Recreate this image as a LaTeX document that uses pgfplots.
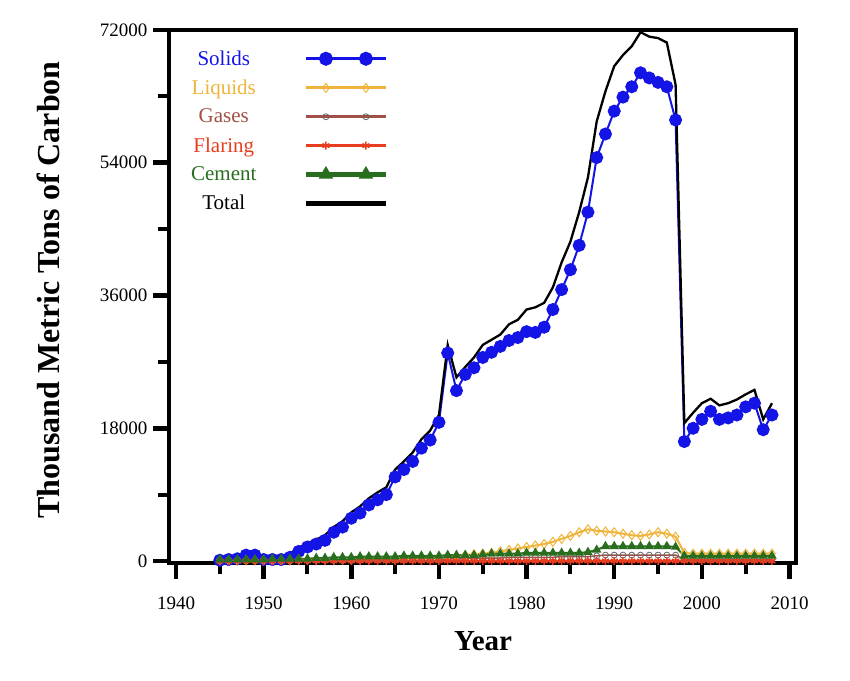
\documentclass[border=0pt]{standalone}
\usepackage{fontspec}
\setmainfont{Liberation Serif}
\usepackage{pgfplots}
\pgfplotsset{compat=1.18}
\usepackage{pgfplotstable}
\definecolor{cSolid}{RGB}{20,20,230}
\definecolor{cLiq}{RGB}{240,180,60}
\definecolor{cGas}{RGB}{160,80,70}
\definecolor{cFlar}{RGB}{232,60,30}
\definecolor{cCem}{RGB}{40,110,30}
\pgfplotsset{
  thicklegend/.style={legend image code/.code={\draw[mark repeat=2,mark phase=2,##1,line width=5pt] plot coordinates {(0pt,0pt) (20pt,0pt) (40pt,0pt) (60pt,0pt) (80pt,0pt)};}},
  totallegend/.style={legend image code/.code={\draw[##1,line width=5pt] (0pt,0pt) -- (80pt,0pt);}},
}

\pgfplotstableread{
year solids liquids gases flaring cement total
1945 100 100 100 0 200 300
1946 200 100 100 0 200 400
1947 300 100 100 0 200 600
1948 800 100 100 0 200 1100
1949 800 100 100 0 200 1100
1950 200 100 100 0 200 600
1951 200 100 100 0 300 600
1952 200 100 100 0 300 700
1953 500 100 100 0 300 1000
1954 1300 200 100 0 300 1800
1955 1900 200 100 0 300 2400
1956 2300 200 100 0 400 2900
1957 2800 200 100 0 400 3500
1958 3900 200 100 0 500 4600
1959 4600 200 100 0 500 5400
1960 5800 200 100 0 500 6600
1961 6500 300 100 0 600 7400
1962 7600 300 100 0 600 8500
1963 8300 300 100 0 600 9300
1964 9000 300 100 0 600 10000
1965 11400 300 100 0 600 12400
1966 12400 400 100 0 700 13500
1967 13500 400 100 0 700 14700
1968 15300 400 100 0 700 16500
1969 16400 500 100 0 700 17700
1970 18800 500 100 0 700 19800
1971 28200 600 300 0 800 29300
1972 23100 700 300 0 800 24900
1973 25300 800 300 0 800 26300
1974 26200 900 400 0 800 27600
1975 27600 1000 400 0 900 29300
1976 28300 1100 400 0 1000 30000
1977 29100 1300 400 0 1000 30700
1978 29900 1500 500 0 1000 32100
1979 30300 1700 500 0 1000 32700
1980 31100 1900 500 0 1100 34100
1981 31000 2100 500 0 1100 34400
1982 31700 2300 500 0 1100 35000
1983 34100 2600 500 0 1100 37100
1984 36800 3000 600 0 1100 40500
1985 39500 3400 600 0 1100 43300
1986 42800 3900 600 0 1100 47300
1987 47300 4300 600 0 1200 52000
1988 54700 4100 700 0 1500 59600
1989 57900 4000 800 0 2000 63700
1990 61000 3900 800 0 2000 67100
1991 62900 3700 800 0 2000 68600
1992 64300 3500 800 0 2000 69800
1993 66200 3400 800 0 2000 71700
1994 65500 3600 800 0 2000 71100
1995 64900 3900 800 0 2000 70900
1996 64300 3700 800 0 2000 70300
1997 59800 3300 800 0 1900 64600
1998 16200 1100 200 0 700 18700
1999 18000 1000 200 0 700 20100
2000 19200 1000 200 0 700 21400
2001 20300 1000 200 0 700 22000
2002 19200 1000 200 0 700 21100
2003 19400 1000 200 0 700 21400
2004 19800 1000 200 0 700 21900
2005 20900 1000 200 0 700 22600
2006 21400 1000 200 0 700 23200
2007 17800 1000 200 0 700 19200
2008 19800 1000 200 0 700 21400
}\data

\begin{document}
\begin{tikzpicture}
\useasboundingbox (-169pt,-117pt) rectangle (681pt,563pt);
\begin{axis}[
  at={(0pt,0pt)}, anchor=south west,
  scale only axis, width=627pt, height=533pt,
  xmin=1939.2, xmax=2010.74, ymin=-271, ymax=72000,
  xtick={1940,1950,...,2010}, minor xtick={1945,1955,...,2005},
  ytick={0,18000,36000,54000,72000}, minor ytick={9000,27000,45000,63000},
  /pgf/number format/1000 sep={},
  /pgf/number format/assume math mode=true,
  scaled y ticks=false,
  tick align=outside, tick pos=left,
  major tick length=16pt, minor tick length=11pt,
  major tick style={line width=4.5pt,black},
  minor tick style={line width=4pt,black},
  axis line style={line width=4.5pt,black},
  tick label style={font=\fontsize{19}{21}\selectfont},
  xticklabel style={yshift=-14pt},
  yticklabel style={xshift=-2pt},
  xlabel={Year},
  ylabel={Thousand Metric Tons of Carbon},
  xlabel style={at={(axis description cs:0.5008,-0.146)}, anchor=center, font=\fontsize{29}{31}\selectfont\bfseries},
  ylabel style={at={(axis description cs:-0.193,0.512)}, anchor=center, font=\fontsize{32}{34}\selectfont\bfseries},
  legend plot pos=right,
  legend cell align=center,
  legend style={at={(axis description cs:0.027,0.969)}, anchor=north west, draw=none, fill=none,
    font=\fontsize{21}{24}\selectfont, row sep=9.1pt, column sep=45pt},
  legend image code/.code={%
    \draw[mark repeat=2,mark phase=2,#1,line width=3pt] plot coordinates {(0pt,0pt) (20pt,0pt) (40pt,0pt) (60pt,0pt) (80pt,0pt)};%
  },
]
\addplot[cSolid, line width=2pt, mark=*, mark size=5.5pt, mark options={fill=cSolid}] table[x=year,y=solids] {\data};
\addlegendentry{\textcolor{cSolid}{Solids}}
\addplot[cLiq, line width=2pt, mark=diamond, mark size=4.5pt, mark options={fill=white, line width=1pt}] table[x=year,y=liquids] {\data};
\addlegendentry{\textcolor{cLiq}{Liquids}}
\addplot[cGas, line width=1.5pt, mark=o, mark size=3pt, mark options={fill=white, line width=0.8pt, draw=gray!80!black}] table[x=year,y=gases] {\data};
\addlegendentry{\textcolor{cGas}{Gases}}
\addplot[cFlar, line width=1.5pt, mark=asterisk, mark size=4pt, mark options={line width=1.5pt}] table[x=year,y=flaring] {\data};
\addlegendentry{\textcolor{cFlar}{Flaring}}
\addplot[cCem, line width=2pt, mark=triangle*, mark size=3.5pt, mark options={fill=cCem}, thicklegend] table[x=year,y=cement] {\data};
\addlegendentry{\textcolor{cCem}{Cement}}
\addplot[black, line width=2.3pt, no marks, totallegend] table[x=year,y=total] {\data};
\addlegendentry{Total}
\end{axis}
\end{tikzpicture}
\end{document}
